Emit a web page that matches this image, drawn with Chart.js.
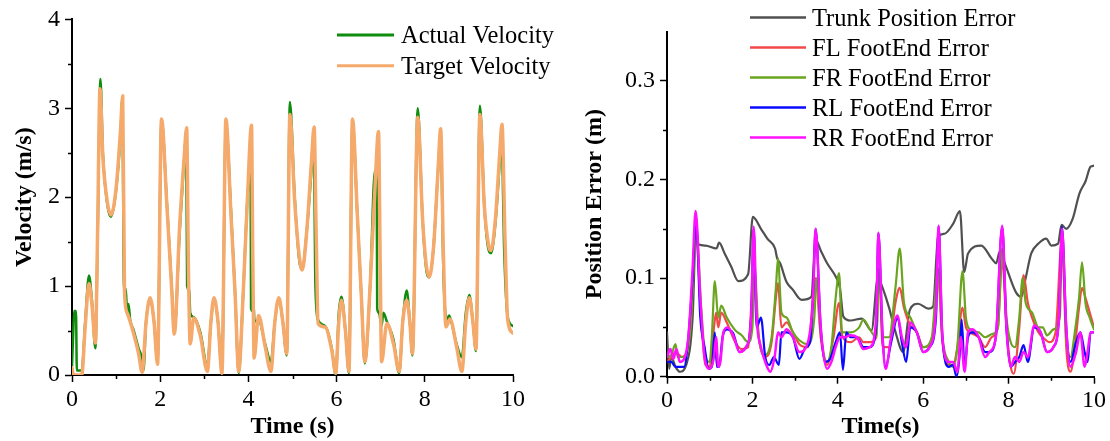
<!DOCTYPE html>
<html><head><meta charset="utf-8">
<script src="https://cdn.jsdelivr.net/npm/chart.js@4.4.0/dist/chart.umd.min.js"></script>
<style>
html,body{margin:0;padding:0;background:#fff;width:1110px;height:441px;overflow:hidden}
canvas{position:absolute;top:0}
#c1{left:0}
#c2{left:555px}
</style></head><body>
<canvas id="c1" width="555" height="441"></canvas>
<canvas id="c2" width="555" height="441"></canvas>
<script>
// ---------- DATA (time s, value) ----------
const velTarget = [[0,0.08],[0.03,0.0],[0.22,0.0],[0.30,0.55],[0.385,1.03],[0.45,0.8],[0.53,0.36],[0.58,1.6],[0.635,3.22],[0.70,2.45],[0.80,1.95],[0.884,1.80],[1.00,2.1],[1.10,2.75],[1.15,3.14],[1.19,0.95],[1.25,0.7],[1.32,0.6],[1.40,0.46],[1.51,0.24],[1.59,0.03],[1.68,0.6],[1.77,0.87],[1.86,0.6],[1.94,0.12],[2.03,2.88],[2.15,1.92],[2.26,0.97],[2.32,0.46],[2.44,1.67],[2.54,2.42],[2.60,2.78],[2.64,1.2],[2.68,0.35],[2.76,0.64],[2.91,0.44],[3.07,0.04],[3.15,0.6],[3.22,0.87],[3.31,0.6],[3.40,0.02],[3.49,2.88],[3.6,1.85],[3.7,0.9],[3.78,0.04],[3.88,0.9],[3.98,2.0],[4.07,2.81],[4.1,1.3],[4.13,0.19],[4.23,0.67],[4.38,0.32],[4.51,0.04],[4.60,0.6],[4.69,0.87],[4.78,0.6],[4.87,0.24],[4.94,2.93],[5.05,1.95],[5.15,1.35],[5.22,1.18],[5.32,1.6],[5.43,2.4],[5.49,2.79],[5.54,1.5],[5.58,0.58],[5.74,0.54],[5.89,0.28],[5.98,0.02],[6.05,0.6],[6.11,0.84],[6.2,0.5],[6.28,0.04],[6.36,2.88],[6.47,1.8],[6.56,0.9],[6.64,0.15],[6.76,1.0],[6.87,2.1],[6.95,2.74],[6.99,1.2],[7.02,0.15],[7.14,0.58],[7.29,0.35],[7.42,0.04],[7.5,0.6],[7.59,0.84],[7.66,0.6],[7.72,0.24],[7.84,2.9],[7.95,1.75],[8.03,1.25],[8.10,1.1],[8.2,1.45],[8.3,2.3],[8.36,2.77],[8.42,1.4],[8.48,0.54],[8.57,0.63],[8.72,0.32],[8.84,0.04],[8.93,0.6],[9.01,0.87],[9.09,0.6],[9.16,0.29],[9.25,2.93],[9.35,1.9],[9.45,1.45],[9.5,1.4],[9.6,1.75],[9.7,2.5],[9.75,2.82],[9.82,1.5],[9.88,0.62],[10,0.47]];
const velActual = [[0,0.1],[0.03,0.5],[0.05,0.72],[0.09,0.72],[0.11,0.05],[0.22,0.05],[0.30,0.6],[0.385,1.12],[0.45,0.85],[0.53,0.3],[0.58,1.5],[0.645,3.33],[0.70,2.5],[0.80,1.92],[0.884,1.78],[1.00,2.08],[1.10,2.7],[1.14,3.1],[1.18,0.97],[1.22,0.97],[1.25,0.69],[1.28,0.8],[1.32,0.62],[1.40,0.5],[1.51,0.3],[1.59,0.18],[1.62,0.05],[1.68,0.6],[1.77,0.85],[1.86,0.6],[1.94,0.15],[2.03,2.88],[2.15,1.95],[2.26,1.0],[2.32,0.48],[2.44,1.6],[2.54,2.4],[2.59,2.7],[2.61,1.0],[2.66,0.95],[2.68,0.7],[2.76,0.65],[2.91,0.48],[3.07,0.1],[3.15,0.6],[3.22,0.85],[3.31,0.6],[3.40,0.05],[3.49,2.85],[3.6,1.9],[3.7,0.9],[3.78,0.02],[3.88,0.9],[3.98,2.0],[4.05,2.3],[4.06,0.75],[4.09,0.72],[4.11,0.85],[4.14,0.6],[4.23,0.62],[4.38,0.35],[4.51,0.15],[4.60,0.6],[4.69,0.85],[4.78,0.6],[4.87,0.22],[4.94,3.07],[5.05,2.0],[5.15,1.3],[5.22,1.2],[5.32,1.6],[5.43,2.3],[5.48,2.7],[5.52,1.0],[5.58,0.62],[5.74,0.55],[5.89,0.3],[5.98,0.0],[6.05,0.7],[6.11,0.88],[6.2,0.5],[6.28,0.02],[6.36,2.85],[6.47,1.8],[6.56,0.9],[6.64,0.13],[6.76,1.0],[6.87,2.3],[6.91,2.2],[6.92,0.75],[6.96,0.7],[7.02,0.55],[7.06,0.7],[7.14,0.6],[7.29,0.4],[7.42,0.02],[7.5,0.6],[7.59,0.95],[7.66,0.6],[7.72,0.22],[7.84,3.0],[7.95,1.75],[8.03,1.2],[8.10,1.1],[8.2,1.45],[8.3,2.3],[8.36,2.7],[8.42,1.2],[8.45,0.8],[8.5,0.62],[8.55,0.67],[8.6,0.6],[8.72,0.35],[8.84,0.2],[8.93,0.7],[9.01,0.9],[9.09,0.6],[9.16,0.27],[9.25,3.03],[9.35,1.9],[9.45,1.4],[9.5,1.37],[9.6,1.7],[9.7,2.4],[9.74,2.7],[9.8,1.4],[9.88,0.65],[10,0.55]];

const trunkErr = [[0,0.045],[0.05,0.008],[0.1,0.02],[0.2,0.01],[0.3,0.005],[0.45,0.012],[0.6,0.06],[0.68,0.15],[0.74,0.134],[0.9,0.133],[1.16,0.13],[1.22,0.136],[1.35,0.125],[1.5,0.112],[1.67,0.097],[1.9,0.104],[2.01,0.162],[2.2,0.15],[2.35,0.14],[2.53,0.13],[2.58,0.12],[2.65,0.115],[2.8,0.096],[2.95,0.088],[3.08,0.08],[3.15,0.078],[3.38,0.081],[3.48,0.139],[3.6,0.128],[3.75,0.115],[3.97,0.1],[4.05,0.09],[4.13,0.061],[4.3,0.057],[4.56,0.059],[4.79,0.047],[4.94,0.101],[5.05,0.09],[5.2,0.07],[5.34,0.047],[5.53,0.025],[5.69,0.068],[5.88,0.074],[6.12,0.069],[6.23,0.071],[6.35,0.142],[6.5,0.145],[6.7,0.155],[6.86,0.168],[6.96,0.106],[7.05,0.125],[7.36,0.133],[7.6,0.12],[7.71,0.115],[7.79,0.127],[7.91,0.115],[8.18,0.085],[8.3,0.081],[8.4,0.1],[8.53,0.125],[8.7,0.135],[8.88,0.14],[9.0,0.133],[9.16,0.135],[9.24,0.154],[9.35,0.15],[9.5,0.16],[9.66,0.186],[9.8,0.198],[9.92,0.213],[10,0.214]];
const flErr = [[0,0.015],[0.1,0.02],[0.2,0.025],[0.35,0.02],[0.55,0.05],[0.67,0.15],[0.8,0.06],[0.9,0.012],[1.0,0.01],[1.1,0.05],[1.15,0.065],[1.2,0.05],[1.27,0.065],[1.4,0.055],[1.6,0.035],[1.75,0.028],[1.9,0.03],[2.03,0.1],[2.15,0.04],[2.3,0.02],[2.45,0.035],[2.55,0.08],[2.6,0.095],[2.68,0.05],[2.8,0.055],[2.95,0.045],[3.1,0.033],[3.3,0.03],[3.48,0.1],[3.6,0.04],[3.75,0.012],[3.9,0.04],[4.03,0.075],[4.1,0.042],[4.3,0.035],[4.5,0.04],[4.6,0.035],[4.75,0.035],[4.9,0.04],[4.97,0.11],[5.05,0.03],[5.2,0.03],[5.35,0.075],[5.45,0.09],[5.55,0.07],[5.7,0.052],[5.85,0.045],[6.0,0.03],[6.2,0.035],[6.35,0.1],[6.45,0.035],[6.6,0.012],[6.7,0.012],[6.8,0.03],[6.92,0.07],[7.0,0.05],[7.1,0.045],[7.3,0.04],[7.45,0.03],[7.6,0.04],[7.75,0.05],[7.85,0.12],[7.95,0.05],[8.05,0.01],[8.12,0.003],[8.25,0.05],[8.35,0.103],[8.45,0.075],[8.55,0.06],[8.7,0.045],[8.85,0.038],[8.95,0.035],[9.1,0.045],[9.25,0.14],[9.35,0.03],[9.45,0.005],[9.55,0.03],[9.65,0.07],[9.72,0.09],[9.8,0.08],[9.9,0.065],[10,0.05]];
const frErr = [[0,0.02],[0.1,0.022],[0.2,0.033],[0.25,0.02],[0.4,0.02],[0.55,0.05],[0.65,0.13],[0.7,0.14],[0.8,0.07],[0.9,0.02],[1.0,0.015],[1.05,0.04],[1.12,0.097],[1.2,0.06],[1.27,0.072],[1.4,0.06],[1.6,0.047],[1.75,0.042],[1.9,0.035],[2.0,0.05],[2.05,0.11],[2.15,0.04],[2.3,0.022],[2.45,0.04],[2.55,0.09],[2.6,0.12],[2.68,0.065],[2.8,0.06],[2.95,0.045],[3.1,0.037],[3.3,0.033],[3.45,0.06],[3.5,0.1],[3.6,0.045],[3.75,0.015],[3.85,0.03],[3.95,0.08],[4.03,0.105],[4.1,0.045],[4.3,0.045],[4.5,0.05],[4.6,0.058],[4.75,0.048],[4.9,0.04],[4.97,0.11],[5.05,0.04],[5.2,0.04],[5.35,0.09],[5.45,0.13],[5.55,0.075],[5.7,0.06],[5.85,0.045],[6.0,0.03],[6.2,0.04],[6.35,0.11],[6.45,0.04],[6.6,0.015],[6.7,0.01],[6.8,0.03],[6.92,0.107],[7.0,0.06],[7.1,0.048],[7.3,0.045],[7.45,0.04],[7.6,0.043],[7.75,0.05],[7.85,0.13],[7.95,0.06],[8.05,0.035],[8.15,0.03],[8.25,0.06],[8.33,0.1],[8.4,0.075],[8.55,0.065],[8.7,0.05],[8.8,0.05],[8.9,0.042],[9.05,0.048],[9.2,0.06],[9.25,0.14],[9.35,0.04],[9.45,0.02],[9.55,0.045],[9.65,0.08],[9.72,0.116],[9.8,0.075],[9.9,0.06],[10,0.048]];
const rlErr = [[0,0.015],[0.1,0.015],[0.2,0.01],[0.3,0.01],[0.4,0.01],[0.5,0.04],[0.6,0.1],[0.68,0.16],[0.78,0.06],[0.88,0.03],[0.98,0.008],[1.05,0.01],[1.12,0.045],[1.17,0.01],[1.22,0.01],[1.3,0.04],[1.4,0.048],[1.55,0.044],[1.7,0.025],[1.85,0.03],[1.97,0.06],[2.03,0.15],[2.1,0.05],[2.2,0.06],[2.3,0.02],[2.4,0.012],[2.5,0.02],[2.62,0.012],[2.68,0.045],[2.8,0.045],[2.95,0.04],[3.1,0.018],[3.25,0.03],[3.35,0.035],[3.42,0.08],[3.48,0.15],[3.6,0.05],[3.7,0.015],[3.82,0.018],[3.95,0.035],[4.05,0.045],[4.12,0.007],[4.2,0.045],[4.3,0.04],[4.45,0.04],[4.6,0.03],[4.75,0.03],[4.9,0.05],[4.95,0.146],[5.05,0.04],[5.12,0.01],[5.25,0.035],[5.4,0.06],[5.5,0.035],[5.6,0.015],[5.7,0.05],[5.85,0.045],[6.0,0.025],[6.15,0.03],[6.3,0.06],[6.36,0.153],[6.45,0.04],[6.6,0.01],[6.7,0.012],[6.78,0.0],[6.85,0.02],[6.9,0.058],[6.97,0.01],[7.05,0.04],[7.15,0.045],[7.3,0.04],[7.45,0.025],[7.55,0.025],[7.7,0.04],[7.85,0.152],[7.95,0.05],[8.05,0.01],[8.15,0.015],[8.25,0.02],[8.35,0.032],[8.45,0.015],[8.6,0.05],[8.75,0.045],[8.9,0.025],[9.05,0.03],[9.18,0.06],[9.25,0.152],[9.35,0.05],[9.45,0.015],[9.58,0.035],[9.68,0.045],[9.78,0.025],[9.85,0.015],[9.92,0.045],[10,0.045]];
const rrErr = [[0,0.02],[0.08,0.028],[0.15,0.018],[0.22,0.028],[0.3,0.015],[0.4,0.018],[0.5,0.04],[0.6,0.11],[0.67,0.168],[0.78,0.08],[0.88,0.02],[1.0,0.008],[1.1,0.02],[1.15,0.04],[1.2,0.01],[1.25,0.015],[1.32,0.045],[1.42,0.05],[1.55,0.042],[1.7,0.025],[1.85,0.03],[1.97,0.06],[2.03,0.152],[2.1,0.06],[2.2,0.03],[2.3,0.015],[2.42,0.005],[2.52,0.02],[2.6,0.045],[2.68,0.04],[2.8,0.048],[2.95,0.04],[3.1,0.025],[3.3,0.035],[3.42,0.08],[3.48,0.15],[3.6,0.05],[3.75,0.008],[3.85,0.015],[3.95,0.03],[4.05,0.04],[4.15,0.04],[4.3,0.042],[4.45,0.04],[4.6,0.028],[4.75,0.03],[4.9,0.06],[4.95,0.146],[5.05,0.04],[5.12,0.008],[5.25,0.04],[5.4,0.062],[5.5,0.04],[5.6,0.03],[5.7,0.055],[5.85,0.045],[6.0,0.025],[6.15,0.03],[6.3,0.07],[6.36,0.153],[6.45,0.04],[6.6,0.015],[6.7,0.015],[6.8,0.005],[6.88,0.04],[6.97,0.005],[7.05,0.045],[7.15,0.048],[7.3,0.04],[7.45,0.02],[7.55,0.025],[7.7,0.04],[7.85,0.153],[7.95,0.05],[8.05,0.01],[8.15,0.02],[8.25,0.015],[8.35,0.025],[8.45,0.02],[8.6,0.052],[8.75,0.045],[8.9,0.025],[9.05,0.03],[9.18,0.06],[9.25,0.15],[9.35,0.05],[9.45,0.01],[9.58,0.025],[9.68,0.045],[9.78,0.01],[9.85,0.025],[9.92,0.045],[10,0.045]];

// ---------- helpers ----------
const FAM = "'Liberation Serif', 'Times New Roman', serif";
const toXY = arr => arr.map(p => ({x: p[0], y: p[1]}));

const minorTicks = {
  id: 'minorTicks',
  afterDraw(chart, args, o) {
    const ctx = chart.ctx, xs = chart.scales.x, ys = chart.scales.y;
    ctx.save(); ctx.strokeStyle = '#000'; ctx.lineWidth = 1.5;
    ctx.beginPath();
    for (let i = 1; i * o.xStep < xs.max - 1e-9; i += 2) {
      const px = Math.round(xs.getPixelForValue(i * o.xStep)) + 0.5;
      ctx.moveTo(px, ys.bottom); ctx.lineTo(px, ys.bottom + o.len);
    }
    for (let i = 1; i * o.yStep < o.yTop - 1e-9; i += 2) {
      const py = Math.round(ys.getPixelForValue(i * o.yStep)) + 0.5;
      ctx.moveTo(xs.left, py); ctx.lineTo(xs.left - o.len, py);
    }
    ctx.stroke(); ctx.restore();
  }
};
const lineLegend = {
  id: 'lineLegend',
  afterDraw(chart, args, o) {
    const ctx = chart.ctx; ctx.save();
    ctx.font = o.size + 'px ' + FAM; ctx.fillStyle = '#000'; ctx.textBaseline = 'alphabetic'; ctx.textAlign = 'left';
    o.items.forEach((idx, i) => {
      const ds = chart.data.datasets[idx];
      const y = o.y0 + i * o.dy;
      ctx.strokeStyle = ds.borderColor; ctx.lineWidth = o.lw; ctx.lineCap = 'butt';
      ctx.beginPath(); ctx.moveTo(o.x0, y); ctx.lineTo(o.x1, y); ctx.stroke();
      ctx.fillText(ds.label, o.tx, y + 8);
    });
    ctx.restore();
  }
};

function axisX(title, h) {
  return {
    type: 'linear', min: 0, max: 10,
    ticks: {stepSize: 2, autoSkip: false, maxRotation: 0, color: '#000', padding: 3, font: {family: FAM, size: 24}},
    grid: {display: true, drawOnChartArea: false, drawTicks: true, tickLength: 7, tickColor: '#000', tickWidth: 1.5},
    border: {display: true, color: '#000', width: 2},
    title: {display: true, text: title, color: '#000', font: {family: FAM, size: 24, weight: 'bold'}, padding: {top: 0, bottom: 0}},
    afterFit(s) { s.height = h; }
  };
}
function axisY(title, min, max, step, fmt, w, tpad) {
  return {
    min: min, max: max,
    ticks: {stepSize: step, includeBounds: false, color: '#000', padding: 5, font: {family: FAM, size: 24}, callback: fmt},
    grid: {display: true, drawOnChartArea: false, drawTicks: true, tickLength: 7, tickColor: '#000', tickWidth: 1.5},
    border: {display: true, color: '#000', width: 2},
    title: {display: true, text: title, color: '#000', font: {family: FAM, size: 24, weight: 'bold'}, padding: {top: tpad, bottom: 0}},
    afterFit(s) { s.width = w; }
  };
}
const baseElements = {point: {radius: 0, hoverRadius: 0}, line: {cubicInterpolationMode: 'monotone', borderJoinStyle: 'round', borderCapStyle: 'round', fill: false}};

new Chart(document.getElementById('c1'), {
  type: 'line',
  data: {datasets: [
    {label: 'Actual Velocity', data: toXY(velActual), borderColor: '#0e8c0e', borderWidth: 2.5, order: 1},
    {label: 'Target Velocity', data: toXY(velTarget), borderColor: '#f5a96b', borderWidth: 3.5, order: 0}
  ]},
  options: {
    responsive: false, animation: false, devicePixelRatio: 1,
    layout: {padding: {top: 18, right: 42, bottom: 0, left: 0}},
    elements: baseElements,
    plugins: {
      legend: {display: false}, tooltip: {enabled: false},
      minorTicks: {xStep: 1, yStep: 0.5, yTop: 4, len: 4},
      lineLegend: {items: [0, 1], x0: 337, x1: 394, tx: 401, y0: 35, dy: 30.7, lw: 3, size: 24.5}
    },
    scales: {
      x: axisX('Time (s)', 66),
      y: axisY('Velocity (m/s)', 0, 4, 1, v => String(v), 72, 10)
    }
  },
  plugins: [minorTicks, lineLegend]
});

new Chart(document.getElementById('c2'), {
  type: 'line',
  data: {datasets: [
    {label: 'Trunk Position Error', data: toXY(trunkErr), borderColor: '#505050', borderWidth: 2.2, order: 4},
    {label: 'FL FootEnd Error', data: toXY(flErr), borderColor: '#f24848', borderWidth: 2.2, order: 3},
    {label: 'FR FootEnd Error', data: toXY(frErr), borderColor: '#6aa51f', borderWidth: 2.2, order: 2},
    {label: 'RL FootEnd Error', data: toXY(rlErr), borderColor: '#0a0aff', borderWidth: 2.2, order: 1},
    {label: 'RR FootEnd Error', data: toXY(rrErr), borderColor: '#ff10ff', borderWidth: 2.5, order: 0}
  ]},
  options: {
    responsive: false, animation: false, devicePixelRatio: 1,
    layout: {padding: {top: 31.6, right: 16, bottom: 0, left: 0}},
    elements: baseElements,
    plugins: {
      legend: {display: false}, tooltip: {enabled: false},
      minorTicks: {xStep: 1, yStep: 0.05, yTop: 0.3, len: 4},
      lineLegend: {items: [0, 1, 2, 3, 4], x0: 195, x1: 251, tx: 257, y0: 17.5, dy: 30, lw: 2.5, size: 24.5}
    },
    scales: {
      x: axisX('Time(s)', 64.3),
      y: axisY('Position Error (m)', 0, 0.35, 0.1, v => v.toFixed(1), 112, 25.6)
    }
  },
  plugins: [minorTicks, lineLegend]
});
</script>
</body></html>
